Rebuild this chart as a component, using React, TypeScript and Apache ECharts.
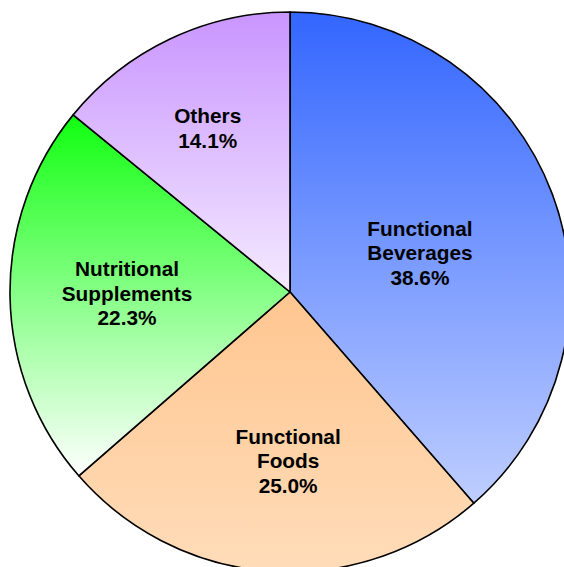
import React, { useEffect, useRef } from "react";
import * as echarts from "echarts";

const categories = ["Functional\nBeverages", "Functional\nFoods", "Nutritional\nSupplements", "Others"];
const values = [38.6, 25.0, 22.3, 14.1];
const topColors = ["#3366ff", "#ffc690", "#11ff11", "#c995ff"];
const bottomColors = ["#bfceff", "#ffdcb9", "#ffffff", "#f4eaff"];
const labelOffsets = [[-4, 11], [8, 26], [-20, -1], [-21, -35]];

export default function App() {
  const ref = useRef<HTMLDivElement>(null);
  useEffect(() => {
    if (!ref.current) return;
    const chart = echarts.init(ref.current, null, { renderer: "svg" });
    chart.setOption({
      animation: false,
      backgroundColor: "#ffffff",
      series: [
        {
          type: "pie",
          center: [290, 292],
          radius: 280,
          startAngle: 90,
          clockwise: true,
          avoidLabelOverlap: false,
          itemStyle: { borderColor: "#000000", borderWidth: 1.6 },
          label: {
            show: true,
            position: "inside",
            formatter: (p: any) => `${p.name}\n${p.value.toFixed(1)}%`,
            color: "#000000",
            fontFamily: "Liberation Sans, Arial, sans-serif",
            fontWeight: "bold",
            fontSize: 20.8,
            lineHeight: 24.5,
            align: "center",
          },
          labelLine: { show: false },
          emphasis: { disabled: true },
          data: categories.map((name, i) => ({
            name,
            value: values[i],
            itemStyle: {
              color: new echarts.graphic.LinearGradient(0, 0, 0, 1, [
                { offset: 0, color: topColors[i] },
                { offset: 1, color: bottomColors[i] },
              ]),
            },
            label: { offset: labelOffsets[i] },
          })),
        },
      ],
    });
    return () => chart.dispose();
  }, []);
  return (
    <div
      ref={ref}
      style={{ position: "fixed", left: 0, top: 0, width: 564, height: 567 }}
    />
  );
}
